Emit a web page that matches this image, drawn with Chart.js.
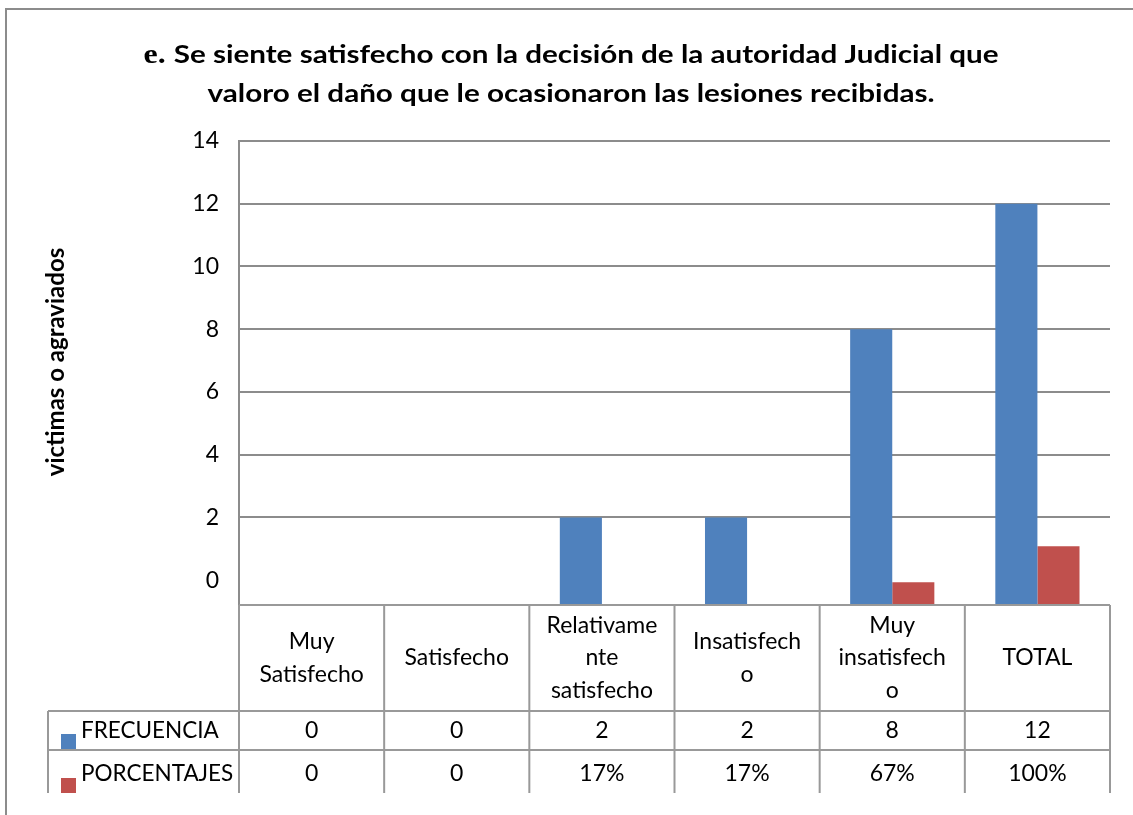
<!DOCTYPE html>
<html>
<head>
<meta charset="utf-8">
<script src="https://cdn.jsdelivr.net/npm/chart.js@4.4.0/dist/chart.umd.min.js"></script>
<style>
body { margin: 0; background: #fff; }
#wrap { width: 1133px; height: 815px; position: relative; }
</style>
</head>
<body>
<div id="wrap"><canvas id="satisChart"></canvas></div>
<script>
// Datos del grafico
var categorias = [['Muy', 'Satisfecho'], ['Satisfecho'], ['Relativame', 'nte', 'satisfecho'], ['Insatisfech', 'o'], ['Muy', 'insatisfech', 'o'], ['TOTAL']];
var frecuencia = [0, 0, 2, 2, 8, 12];
var porcentajes = [0, 0, 0.17, 0.17, 0.67, 1];
var ticksY = [0, 2, 4, 6, 8, 10, 12, 14];
var series = ['FRECUENCIA', 'PORCENTAJES'];
var titulo = ['e.', 'Se siente satisfecho con la decisión de la autoridad Judicial que', 'valoro el daño que le ocasionaron las lesiones recibidas.'];
var tituloEje = 'victimas o agraviados';

var azul = '#4F81BD';
var rojo = '#C0504D';
var gris = '#8c8c8c';
var grisTabla = '#999999';

Chart.defaults.font.family = 'Lato';

function formatoPct(v) {
    return v === 0 ? '0' : Math.round(v * 100) + '%';
}

// titulo, marco, eje y tabla de datos
var tablaPlugin = {
    id: 'tablaDatos',
    beforeDraw: function (chart) {
        var ctx = chart.ctx;
        ctx.save();
        ctx.fillStyle = '#fff';
        ctx.fillRect(0, 0, chart.width, chart.height);
        ctx.restore();
    },
    afterDraw: function (chart) {
        var ctx = chart.ctx;
        var area = chart.chartArea;
        var xs = chart.scales.x;
        var n = categorias.length;
        var colW = (area.right - area.left) / n;
        var yTop = area.bottom + 1, yHead = 711, yRow = 750, yEnd = 793, xLeft = 48;

        ctx.save();

        // marco
        ctx.strokeStyle = gris;
        ctx.lineWidth = 2;
        ctx.beginPath();
        ctx.moveTo(6, 815);
        ctx.lineTo(6, 9);
        ctx.lineTo(1133, 9);
        ctx.stroke();

        // titulo (el original es mas ancho, se estira en horizontal)
        ctx.fillStyle = '#000';
        ctx.textBaseline = 'alphabetic';
        ctx.textAlign = 'left';
        var fSerif = 'bold 27px "Liberation Serif"';
        var fTit = 'bold 25px Lato';
        ctx.font = fSerif;
        var w0 = ctx.measureText(titulo[0] + ' ').width;
        ctx.font = fTit;
        var w1 = ctx.measureText(titulo[1]).width;
        var sx = 855 / (w0 + w1);
        ctx.save();
        ctx.translate(571, 0);
        ctx.scale(sx, 1);
        var x0 = -(w0 + w1) / 2;
        ctx.font = fSerif;
        ctx.fillText(titulo[0] + ' ', x0, 63);
        ctx.font = fTit;
        ctx.fillText(titulo[1], x0 + w0, 63);
        ctx.textAlign = 'center';
        ctx.fillText(titulo[2], 0, 102);
        ctx.restore();

        // titulo eje y
        ctx.save();
        ctx.translate(64, 362);
        ctx.rotate(-Math.PI / 2);
        ctx.font = 'bold 24px Lato';
        ctx.textAlign = 'center';
        ctx.fillText(tituloEje, 0, 0);
        ctx.restore();

        // lineas de la tabla
        ctx.strokeStyle = grisTabla;
        ctx.lineWidth = 2;
        ctx.beginPath();
        ctx.moveTo(area.left, yTop);
        ctx.lineTo(area.right, yTop);
        ctx.moveTo(xLeft, yHead);
        ctx.lineTo(area.right, yHead);
        ctx.moveTo(xLeft, yRow);
        ctx.lineTo(area.right, yRow);
        ctx.moveTo(xLeft, yHead);
        ctx.lineTo(xLeft, yEnd);
        for (var i = 0; i <= n; i++) {
            var xl = area.left + i * colW;
            ctx.moveTo(xl, yTop);
            ctx.lineTo(xl, yEnd);
        }
        ctx.stroke();

        // textos de la tabla
        ctx.font = '23px Lato';
        ctx.fillStyle = '#000';
        ctx.textAlign = 'center';
        ctx.textBaseline = 'middle';
        var lh = 32.5;
        for (var j = 0; j < n; j++) {
            var cx = xs.getPixelForValue(j);
            var lineas = categorias[j];
            var y0 = (yTop + yHead) / 2 - (lineas.length - 1) * lh / 2;
            for (var k = 0; k < lineas.length; k++) {
                ctx.fillText(lineas[k], cx, y0 + k * lh);
            }
            ctx.fillText(String(frecuencia[j]), cx, 731);
            ctx.fillText(formatoPct(porcentajes[j]), cx, 774);
        }

        // leyenda en la tabla
        ctx.font = '22.5px Lato';
        ctx.textAlign = 'left';
        ctx.fillText(series[0], 81, 731);
        ctx.fillText(series[1], 81, 774);
        ctx.fillStyle = azul;
        ctx.fillRect(61, 734, 15, 15);
        ctx.fillStyle = rojo;
        ctx.fillRect(61, 778, 15, 15);

        ctx.restore();
    }
};

function colorSinCero(color) {
    return function (c) {
        return c.raw === 0 ? 'rgba(0,0,0,0)' : color;
    };
}

var satisChart = new Chart(document.getElementById('satisChart'), {
    type: 'bar',
    data: {
        labels: categorias,
        datasets: [{
            label: series[0],
            data: frecuencia,
            backgroundColor: colorSinCero(azul),
            yAxisID: 'y',
            base: -0.76,
            clip: 0
        }, {
            label: series[1],
            data: porcentajes,
            backgroundColor: colorSinCero(rojo),
            yAxisID: 'y2',
            base: 0.471,
            clip: 0
        }]
    },
    options: {
        responsive: true,
        maintainAspectRatio: false,
        animation: false,
        datasets: {
            bar: { categoryPercentage: 0.58, barPercentage: 1 }
        },
        layout: {
            padding: { left: 0, right: 23, top: 141, bottom: 211 }
        },
        plugins: {
            legend: { display: false },
            tooltip: { enabled: false },
            title: { display: false }
        },
        scales: {
            x: { display: false },
            y: {
                position: 'left',
                min: -0.76,
                max: 14,
                afterBuildTicks: function (s) {
                    s.ticks = ticksY.map(function (v) { return { value: v }; });
                },
                afterFit: function (s) { s.width = 239; },
                grid: {
                    drawTicks: false,
                    lineWidth: 2,
                    color: function (c) {
                        return c.tick && c.tick.value === 0 ? 'rgba(0,0,0,0)' : gris;
                    }
                },
                border: { display: true, color: gris, width: 2 },
                ticks: {
                    padding: 20,
                    color: '#000',
                    font: { size: 23 }
                }
            },
            y2: {
                display: false,
                min: 0.471,
                max: 4.715
            }
        }
    },
    plugins: [tablaPlugin]
});
</script>
</body>
</html>
